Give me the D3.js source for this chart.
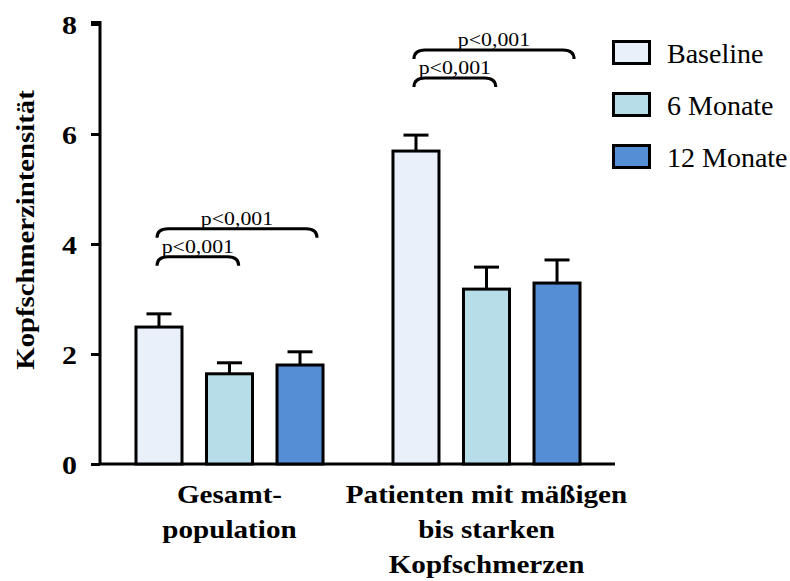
<!DOCTYPE html>
<html>
<head>
<meta charset="utf-8">
<script src="https://cdn.jsdelivr.net/npm/d3@7"></script>
<style>
  html, body { margin: 0; padding: 0; background: #fff; }
  svg { display: block; }
  text { font-family: "Liberation Serif", "Times New Roman", serif; fill: #000; }
</style>
</head>
<body>
<svg id="chart" width="790" height="581"></svg>
<script>
// ---- data ----
const groups = ["Gesamtpopulation", "Patienten mit mäßigen bis starken Kopfschmerzen"];
const groupLabelLines = [["Gesamt-", "population"], ["Patienten mit mäßigen", "bis starken", "Kopfschmerzen"]];
const series = ["Baseline", "6 Monate", "12 Monate"];
const valuesBaseline = [2.49, 5.69];
const values6Monate = [1.64, 3.18];
const values12Monate = [1.80, 3.29];
const errBaseline = [0.24, 0.29];
const err6Monate = [0.20, 0.40];
const err12Monate = [0.24, 0.42];
const yTicks = [0, 2, 4, 6, 8];
const yLabel = "Kopfschmerzintensität";
const colors = ["#E9F0FA", "#B7DDE8", "#558ED5"];
const comparisons = [
  { group: 0, from: 0, to: 1, level: 0, label: "p<0,001" },
  { group: 0, from: 0, to: 2, level: 1, label: "p<0,001" },
  { group: 1, from: 0, to: 1, level: 0, label: "p<0,001" },
  { group: 1, from: 0, to: 2, level: 1, label: "p<0,001" }
];

const seriesValues = [valuesBaseline, values6Monate, values12Monate];
const seriesErrors = [errBaseline, err6Monate, err12Monate];
const bars = [];
groups.forEach((g, gi) => series.forEach((s, si) => {
  bars.push({ group: g, gi, series: s, si, value: seriesValues[si][gi], err: seriesErrors[si][gi] });
}));

// ---- layout ----
const svg = d3.select("#chart");
const y = d3.scaleLinear().domain([0, 8]).range([464, 24]);
const x0 = d3.scaleBand().domain(groups).range([101, 615]).paddingInner(0).paddingOuter(0);
const x1 = d3.scaleBand().domain(series).range([0, x0.bandwidth()]).paddingInner(0.3475).paddingOuter(0.496);
const bw = x1.bandwidth();
const SW = 3;

// y axis
const yAxis = d3.axisLeft(y).tickValues(yTicks).tickSize(9).tickSizeOuter(0).tickFormat(d3.format("d"));
const gy = svg.append("g").attr("transform", "translate(100,0)").call(yAxis);
gy.select(".domain").attr("stroke", "#000").attr("stroke-width", SW).attr("d", `M0,${y(0)}V${y(8) - 1.5}H-9`);
gy.selectAll(".tick line").attr("stroke", "#000").attr("stroke-width", SW);
gy.selectAll(".tick text")
  .attr("x", null).attr("dy", null)
  .attr("transform", "translate(-23,9) scale(1.15,1)")
  .attr("text-anchor", "end")
  .style("font-size", "26px").style("font-weight", "bold")
  .style("font-family", '"Liberation Serif", "Times New Roman", serif');

// x axis baseline
svg.append("line")
  .attr("x1", x0.range()[0] - 1.5).attr("x2", x0.range()[1])
  .attr("y1", y(0)).attr("y2", y(0))
  .attr("stroke", "#000").attr("stroke-width", SW);

// y label
svg.append("text")
  .attr("transform", `translate(34,230) rotate(-90) scale(1.15,1)`)
  .attr("text-anchor", "middle")
  .style("font-size", "25px").style("font-weight", "bold")
  .text(yLabel);

// bars
const gBars = svg.append("g");
gBars.selectAll("rect").data(bars).join("rect")
  .attr("x", d => x0(d.group) + x1(d.series))
  .attr("y", d => y(d.value))
  .attr("width", bw)
  .attr("height", d => y(0) - y(d.value))
  .attr("fill", d => colors[d.si])
  .attr("stroke", "#000").attr("stroke-width", SW);

// error bars
const capHalf = 12.5;
const gErr = svg.append("g").attr("stroke", "#000").attr("stroke-width", SW);
bars.forEach(d => {
  const cx = x0(d.group) + x1(d.series) + bw / 2;
  gErr.append("line").attr("x1", cx).attr("x2", cx).attr("y1", y(d.value)).attr("y2", y(d.value + d.err));
  gErr.append("line").attr("x1", cx - capHalf).attr("x2", cx + capHalf).attr("y1", y(d.value + d.err)).attr("y2", y(d.value + d.err));
});

// significance brackets
comparisons.forEach(c => {
  const g = groups[c.group];
  const base = bars.find(b => b.gi === c.group && b.si === c.from);
  const xa = x0(g) + x1(series[c.from]) + bw / 2 - 2;
  const xb = x0(g) + x1(series[c.to]) + bw / 2 + (c.level ? 0.37 : 0.2) * bw;
  const yb = y(base.value + base.err) - 57 - c.level * 28;
  svg.append("path")
    .attr("d", `M${xa},${yb + 9} Q${xa},${yb} ${xa + 11},${yb} L${xb - 11},${yb} Q${xb},${yb} ${xb},${yb + 9}`)
    .attr("fill", "none").attr("stroke", "#000").attr("stroke-width", SW);
  svg.append("text")
    .attr("transform", `translate(${(xa + xb) / 2},${yb - 4}) scale(1.18,1)`)
    .attr("text-anchor", "middle")
    .style("font-size", "18.5px")
    .text(c.label);
});

// category labels
groups.forEach((g, gi) => {
  const cx = x0(g) + x0.bandwidth() / 2;
  groupLabelLines[gi].forEach((line, li) => {
    svg.append("text")
      .attr("transform", `translate(${cx},${503 + li * 35}) scale(1.12,1)`)
      .attr("text-anchor", "middle")
      .style("font-size", "26px").style("font-weight", "bold")
      .text(line);
  });
});

// legend
const legend = svg.append("g").attr("transform", "translate(612,40)");
series.forEach((s, i) => {
  const row = legend.append("g").attr("transform", `translate(0,${i * 52})`);
  row.append("rect").attr("x", 1.5).attr("y", 1.5).attr("width", 36).attr("height", 22)
    .attr("fill", colors[i]).attr("stroke", "#000").attr("stroke-width", SW);
  row.append("text").attr("x", 55).attr("y", 23)
    .style("font-size", "28px").text(s);
});
</script>
</body>
</html>
